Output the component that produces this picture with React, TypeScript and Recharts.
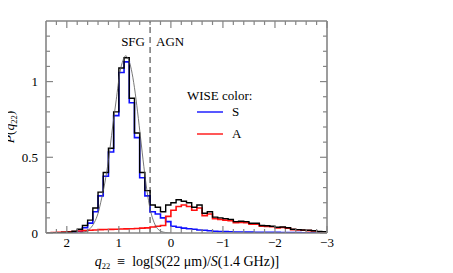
import React from "react";
import { LineChart, Line, XAxis, YAxis, ReferenceLine } from "recharts";

// left edges of the 0.1-wide q22 bins (last entry closes the final bin)
const binEdges = [
  2.4, 2.3, 2.2, 2.1, 2.0, 1.9, 1.8, 1.7, 1.6, 1.5, 1.4, 1.3, 1.2, 1.1, 1.0, 0.9, 0.8, 0.7, 0.6, 0.5,
  0.4, 0.3, 0.2, 0.1, 0.0, -0.1, -0.2, -0.3, -0.4, -0.5, -0.6, -0.7, -0.8, -0.9, -1.0, -1.1, -1.2,
  -1.3, -1.4, -1.5, -1.6, -1.7, -1.8, -1.9, -2.0, -2.1, -2.2, -2.3, -2.4, -2.5, -2.6, -2.7, -2.8,
  -2.9, -3.0,
];

// all sources
const totalHist = [
  0, 0, 0, 0.003, 0.005, 0.012, 0.025, 0.05, 0.085, 0.165, 0.27, 0.4, 0.56, 0.8, 1.09, 1.157, 0.89,
  0.66, 0.4, 0.28, 0.185, 0.17, 0.14, 0.185, 0.2, 0.22, 0.21, 0.2, 0.17, 0.185, 0.13, 0.14, 0.105,
  0.1, 0.095, 0.09, 0.075, 0.078, 0.075, 0.064, 0.064, 0.05, 0.048, 0.045, 0.038, 0.04, 0.035,
  0.025, 0.022, 0.02, 0.018, 0.015, 0.01, 0.008,
];

// WISE colour S
const sHist = [
  0, 0, 0, 0, 0.002, 0.004, 0.01, 0.035, 0.065, 0.14, 0.245, 0.375, 0.535, 0.775, 1.06, 1.13, 0.86,
  0.63, 0.365, 0.245, 0.14, 0.125, 0.1, 0.075, 0.045, 0.038, 0.032, 0.028, 0.025, 0.02, 0.018,
  0.015, 0.012, 0.01, 0.009, 0.008, 0.007, 0.007, 0.006, 0.006, 0.005, 0.005, 0.004, 0.004, 0.004,
  0.003, 0.003, 0.003, 0.003, 0.002, 0.002, 0.002, 0.002, 0.002,
];

// WISE colour A
const aHist = [
  0.002, 0.003, 0.004, 0.006, 0.008, 0.01, 0.013, 0.016, 0.018, 0.02, 0.022, 0.023, 0.024, 0.025,
  0.026, 0.027, 0.028, 0.03, 0.032, 0.034, 0.04, 0.045, 0.05, 0.11, 0.15, 0.175, 0.185, 0.175, 0.15,
  0.165, 0.115, 0.125, 0.095, 0.09, 0.085, 0.082, 0.068, 0.07, 0.068, 0.058, 0.058, 0.045, 0.044,
  0.041, 0.034, 0.036, 0.032, 0.022, 0.02, 0.018, 0.016, 0.013, 0.008, 0.006,
];

// thin fit curve over the SFG peak
const fitQ = [
  1.75, 1.65, 1.55, 1.47, 1.4, 1.33, 1.27, 1.2, 1.12, 1.05, 0.98, 0.92, 0.87, 0.82, 0.76, 0.7, 0.64,
  0.58, 0.52, 0.46, 0.4, 0.34, 0.28, 0.2, 0.1, 0.0,
];
const fitP = [
  0.002, 0.008, 0.03, 0.07, 0.13, 0.23, 0.33, 0.48, 0.7, 0.88, 1.06, 1.14, 1.17, 1.15, 1.08, 0.96,
  0.8, 0.62, 0.44, 0.28, 0.16, 0.085, 0.04, 0.013, 0.003, 0.0,
];

const dividerQ = 0.4;

const xMajor = [2, 1, 0, -1, -2, -3];
const xMinor = [
  2.2, 1.8, 1.6, 1.4, 1.2, 0.8, 0.6, 0.4, 0.2, -0.2, -0.4, -0.6, -0.8, -1.2, -1.4, -1.6, -1.8, -2.2,
  -2.4, -2.6, -2.8,
];
const yMajor = [0, 0.5, 1];
const yMinor = [0.1, 0.2, 0.3, 0.4, 0.6, 0.7, 0.8, 0.9, 1.1, 1.2, 1.3];

// chart sits inside the 8px body margin
const W = 445;
const H = 265;
const AXIS = "#858585";
const FONT = "'Liberation Serif', 'Times New Roman', serif";
const NB = "\u00a0";

const steps = (vals: number[]) =>
  binEdges.map((x, i) => ({ x, y: vals[Math.min(i, vals.length - 1)] }));
const fitData = fitQ.map((x, i) => ({ x, y: fitP[i] }));

const fmt = (v: number) => (v < 0 ? "\u2212" + Math.abs(v) : String(v));

function makeTick(side: string, major: number[]) {
  return (props: any) => {
    const { x, y, payload } = props;
    const v = payload.value;
    const isMajor = major.some((m) => Math.abs(m - v) < 1e-6);
    const len = isMajor ? 7 : 4;
    let line;
    let label = null;
    if (side === "bottom") {
      line = <line x1={x} y1={y} x2={x} y2={y - len} />;
      if (isMajor)
        label = (
          <text x={x} y={y + 14} textAnchor="middle">
            {fmt(v)}
          </text>
        );
    } else if (side === "top") {
      line = <line x1={x} y1={y} x2={x} y2={y + len} />;
    } else if (side === "left") {
      line = <line x1={x} y1={y} x2={x + len} y2={y} />;
      if (isMajor)
        label = (
          <text x={x - 8} y={y + 4.5} textAnchor="end">
            {fmt(v)}
          </text>
        );
    } else {
      line = <line x1={x} y1={y} x2={x - len} y2={y} />;
    }
    return (
      <g>
        <g stroke={AXIS} strokeWidth={1.2}>{line}</g>
        {label && (
          <g fill="#000" fontSize={13} fontFamily={FONT}>
            {label}
          </g>
        )}
      </g>
    );
  };
}

const xTicks = [...xMajor, ...xMinor];
const yTicks = [...yMajor, ...yMinor];
const axisLine = { stroke: AXIS, strokeWidth: 1.6 };

export default function App() {
  return (
    <div style={{ position: "relative", width: W, height: H }}>
      <LineChart width={W} height={H} margin={{ top: 12, right: 125, bottom: 39, left: 37 }}>
        <XAxis
          type="number"
          dataKey="x"
          domain={[-3, 2.4]}
          reversed
          allowDataOverflow
          ticks={xTicks}
          interval={0}
          height={1}
          tickSize={0}
          tickMargin={0}
          axisLine={axisLine}
          tick={makeTick("bottom", xMajor)}
        />
        <XAxis
          xAxisId="top"
          orientation="top"
          type="number"
          dataKey="x"
          domain={[-3, 2.4]}
          reversed
          allowDataOverflow
          ticks={xTicks}
          interval={0}
          height={1}
          tickSize={0}
          tickMargin={0}
          axisLine={axisLine}
          tick={makeTick("top", xMajor)}
        />
        <YAxis
          type="number"
          domain={[0, 1.4]}
          allowDataOverflow
          ticks={yTicks}
          interval={0}
          width={1}
          tickSize={0}
          tickMargin={0}
          axisLine={axisLine}
          tick={makeTick("left", yMajor)}
        />
        <YAxis
          yAxisId="r"
          orientation="right"
          type="number"
          domain={[0, 1.4]}
          allowDataOverflow
          ticks={yTicks}
          interval={0}
          width={1}
          tickSize={0}
          tickMargin={0}
          axisLine={axisLine}
          tick={makeTick("right", yMajor)}
        />
        <ReferenceLine x={dividerQ} stroke="#333" strokeWidth={1} strokeDasharray="6 4" />
        <Line
          data={steps(sHist)}
          dataKey="y"
          type="stepAfter"
          stroke="#1010ff"
          strokeWidth={1.6}
          dot={false}
          isAnimationActive={false}
        />
        <Line
          data={steps(aHist)}
          dataKey="y"
          type="stepAfter"
          stroke="#ff1010"
          strokeWidth={1.6}
          dot={false}
          isAnimationActive={false}
        />
        <Line
          data={steps(totalHist)}
          dataKey="y"
          type="stepAfter"
          stroke="#000"
          strokeWidth={1.4}
          dot={false}
          isAnimationActive={false}
        />
        <Line
          data={fitData}
          dataKey="y"
          type="monotone"
          stroke="#555"
          strokeWidth={0.8}
          dot={false}
          isAnimationActive={false}
        />
      </LineChart>
      {/* annotation layer in page coordinates */}
      <svg
        width={453}
        height={273}
        style={{ position: "absolute", left: -8, top: -8, pointerEvents: "none", overflow: "visible" }}
        fontFamily={FONT}
        fill="#000"
      >
        <text x={145} y={46} fontSize={13} textAnchor="end">SFG</text>
        <text x={156} y={46} fontSize={13}>AGN</text>
        <text x={187} y={100} fontSize={13}>WISE color:</text>
        <line x1={197} y1={112} x2={223} y2={112} stroke="#1010ff" strokeWidth={1.4} />
        <text x={232} y={116} fontSize={13}>S</text>
        <line x1={197} y1={134} x2={223} y2={134} stroke="#ff1010" strokeWidth={1.4} />
        <text x={232} y={138} fontSize={13}>A</text>
        <text x={187} y={266} fontSize={14} textAnchor="middle">
          <tspan fontStyle="italic">q</tspan>
          <tspan fontSize={8.5} dy={3}>22</tspan>
          <tspan dy={-3}>{`${NB}${NB}≡${NB}${NB}log[`}</tspan>
          <tspan fontStyle="italic">S</tspan>
          <tspan>{`(22${NB}μm)/`}</tspan>
          <tspan fontStyle="italic">S</tspan>
          <tspan>{`(1.4${NB}GHz)]`}</tspan>
        </text>
        <text transform="translate(14,127) rotate(-90)" fontSize={13.5} textAnchor="middle">
          <tspan fontStyle="italic">P</tspan>
          <tspan>(</tspan>
          <tspan fontStyle="italic">q</tspan>
          <tspan fontSize={8.5} dy={3}>22</tspan>
          <tspan dy={-3}>)</tspan>
        </text>
      </svg>
    </div>
  );
}
